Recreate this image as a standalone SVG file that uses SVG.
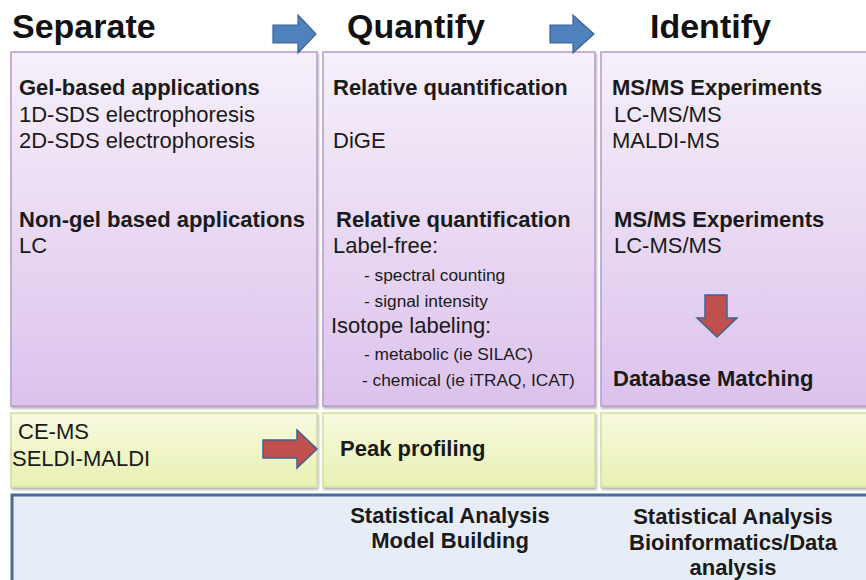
<svg xmlns="http://www.w3.org/2000/svg" width="866" height="580" viewBox="0 0 866 580">
  <defs>
    <linearGradient id="purpleFill" x1="0" y1="0" x2="0" y2="1">
      <stop offset="0" stop-color="#f6f0fa"/>
      <stop offset="1" stop-color="#dcc2ec"/>
    </linearGradient>
    <linearGradient id="yellowFill" x1="0" y1="0" x2="0" y2="1">
      <stop offset="0" stop-color="#f8fadf"/>
      <stop offset="1" stop-color="#e9f0b3"/>
    </linearGradient>
    <filter id="shadow" x="-5%" y="-5%" width="110%" height="115%">
      <feDropShadow dx="1" dy="2" stdDeviation="1.2" flood-color="#000" flood-opacity="0.3"/>
    </filter>
  </defs>
  <style>
    .title { font-family: "Liberation Sans", Arial, sans-serif; font-weight: bold; font-size: 34px; fill: #111; }
    .head { font-family: "Liberation Sans", Arial, sans-serif; font-weight: bold; font-size: 22px; fill: #1a1a1a; }
    .body { font-family: "Liberation Sans", Arial, sans-serif; font-size: 22px; fill: #1a1a1a; }
    .small { font-family: "Liberation Sans", Arial, sans-serif; font-size: 17.3px; fill: #1a1a1a; }
    .center { text-anchor: middle; }
    .purple { fill: url(#purpleFill); stroke: #b79bd0; stroke-width: 1.5; filter: url(#shadow); }
    .yellow { fill: url(#yellowFill); stroke: #d3de9a; stroke-width: 1.5; filter: url(#shadow); }
    .blueArrow { fill: #4f81bd; stroke: #3b6396; stroke-width: 1.2; }
    .redArrow { fill: #c0504d; stroke: #3b6396; stroke-width: 1.5; }
  </style>

  <rect width="866" height="580" fill="#ffffff"/>

  <!-- column titles -->
  <g id="titles">
    <text class="title" x="12" y="38">Separate</text>
    <text class="title" x="347" y="38">Quantify</text>
    <text class="title" x="650" y="38">Identify</text>
  </g>

  <!-- separate column -->
  <g id="separate">
    <rect class="purple" x="11" y="52" width="306" height="354"/>
    <text class="head" x="19" y="95">Gel-based applications</text>
    <text class="body" x="19" y="122">1D-SDS electrophoresis</text>
    <text class="body" x="19" y="148">2D-SDS electrophoresis</text>
    <text class="head" x="19" y="227">Non-gel based applications</text>
    <text class="body" x="19" y="253">LC</text>
  </g>

  <!-- quantify column -->
  <g id="quantify">
    <rect class="purple" x="323" y="52" width="272" height="354"/>
    <text class="head" x="333" y="95">Relative quantification</text>
    <text class="body" x="333" y="148">DiGE</text>
    <text class="head" x="336" y="227">Relative quantification</text>
    <text class="body" x="333" y="253">Label-free:</text>
    <text class="small" x="364" y="281">- spectral counting</text>
    <text class="small" x="364" y="307">- signal intensity</text>
    <text class="body" x="331" y="333">Isotope labeling:</text>
    <text class="small" x="364" y="360">- metabolic (ie SILAC)</text>
    <text class="small" x="362" y="386">- chemical (ie iTRAQ, ICAT)</text>
  </g>

  <!-- identify column -->
  <g id="identify">
    <rect class="purple" x="601" y="52" width="275" height="354"/>
    <text class="head" x="612" y="95">MS/MS Experiments</text>
    <text class="body" x="614" y="122">LC-MS/MS</text>
    <text class="body" x="612" y="148">MALDI-MS</text>
    <text class="head" x="614" y="227">MS/MS Experiments</text>
    <text class="body" x="614" y="253">LC-MS/MS</text>
    <text class="head" x="613" y="386">Database Matching</text>
  </g>

  <!-- profiling row -->
  <g id="profiling-separate">
    <rect class="yellow" x="11" y="413" width="306" height="74"/>
    <text class="body" x="18" y="439">CE-MS</text>
    <text class="body" x="12" y="466">SELDI-MALDI</text>
  </g>
  <g id="profiling-quantify">
    <rect class="yellow" x="323" y="413" width="272" height="74"/>
    <text class="head" x="340" y="456">Peak profiling</text>
  </g>
  <g id="profiling-identify">
    <rect class="yellow" x="601" y="413" width="275" height="74"/>
  </g>

  <!-- analysis band -->
  <g id="analysis">
    <rect x="12" y="495" width="870" height="100" fill="#e7edf7" stroke="#4a6a9c" stroke-width="3"/>
    <text class="head center" x="450" y="523">Statistical Analysis</text>
    <text class="head center" x="450" y="548">Model Building</text>
    <text class="head center" x="733" y="524">Statistical Analysis</text>
    <text class="head center" x="733" y="550">Bioinformatics/Data</text>
    <text class="head center" x="733" y="575">analysis</text>
  </g>

  <!-- connectors -->
  <g id="connectors">
    <polygon class="blueArrow" points="273,25 298,25 298,15 316,34 298,53 298,43 273,43"/>
    <polygon class="blueArrow" points="550,25 573,25 573,15 594,34 573,53 573,43 550,43"/>
    <polygon class="redArrow" points="263,440 297,440 297,430 317,449 297,468 297,458 263,458"/>
    <polygon class="redArrow" points="705,295 727,295 727,318 737,318 717,337 697,318 705,318"/>
  </g>
</svg>
